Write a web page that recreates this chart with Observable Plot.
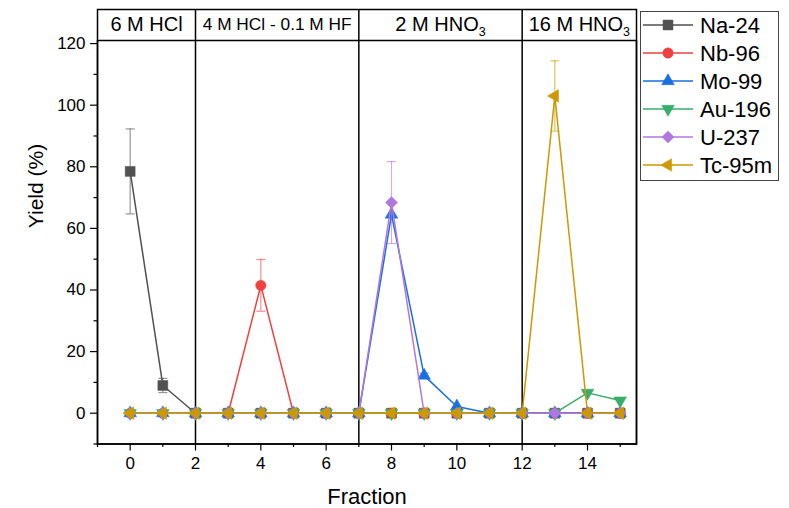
<!DOCTYPE html>
<html><head><meta charset="utf-8">
<script src="https://cdn.jsdelivr.net/npm/d3@7"></script>
<script src="https://cdn.jsdelivr.net/npm/@observablehq/plot@0.6"></script>
<style>
body{margin:0;background:#fff;font-family:"Liberation Sans",Arial,sans-serif;}
#wrap{position:relative;width:789px;height:508px;}
#legend{position:absolute;left:640px;top:11px;width:139px;height:170px;border:1px solid #444;box-sizing:border-box;background:#fff;}
</style></head><body><div id="wrap"><div id="legend"></div></div>
<script>
// ---- data ----
const fractions = [0,1,2,3,4,5,6,7,8,9,10,11,12,13,14,15];
const seriesNames = ["Na-24","Nb-96","Mo-99","Au-196","U-237","Tc-95m"];
const na24    = [78.5, 9.0, 0, 0, 0, 0, 0, 0, 0, 0, 0, 0, 0, 0, 0, 0];
const na24Err = [13.8, 2.3, 0, 0, 0, 0, 0, 0, 0, 0, 0, 0, 0, 0, 0, 0];
const nb96    = [0, 0, 0, 0, 41.5, 0, 0, 0, 0, 0, 0, 0, 0, 0, 0, 0];
const nb96Err = [0, 0, 0, 0, 8.4, 0, 0, 0, 0, 0, 0, 0, 0, 0, 0, 0];
const mo99    = [0, 0, 0, 0, 0, 0, 0, 0, 64.5, 12.2, 2.2, 0, 0, 0, 0, 0];
const mo99Err = [0, 0, 0, 0, 0, 0, 0, 0, 0, 0.8, 0, 0, 0, 0, 0, 0];
const au196   = [0, 0, 0, 0, 0, 0, 0, 0, 0, 0, 0, 0, 0, 0, 6.6, 4.1];
const au196Err= [0, 0, 0, 0, 0, 0, 0, 0, 0, 0, 0, 0, 0, 0, 0, 0];
const u237    = [0, 0, 0, 0, 0, 0, 0, 0, 68.4, 0, 0, 0, 0, 0, 0, 0];
const u237Err = [0, 0, 0, 0, 0, 0, 0, 0, 13.3, 0, 0, 0, 0, 0, 0, 0];
const tc95m   = [0, 0, 0, 0, 0, 0, 0, 0, 0, 0, 0, 0, 0, 103.0, 0, 0];
const tc95mErr= [0, 0, 0, 0, 0, 0, 0, 0, 0, 0, 0, 0, 0, 11.4, 0, 0];
const seriesValues = [na24, nb96, mo99, au196, u237, tc95m];
const seriesErrors = [na24Err, nb96Err, mo99Err, au196Err, u237Err, tc95mErr];

const dividers = [2, 7, 12];
const headerLabels = ["6 M HCl", "4 M HCl - 0.1 M HF", "2 M HNO₃", "16 M HNO₃"];
const xMajorTicks = [0, 2, 4, 6, 8, 10, 12, 14];
const xMinorTicks = [-1, 1, 3, 5, 7, 9, 11, 13, 15];
const yMajorTicks = [0, 20, 40, 60, 80, 100, 120];
const yMinorTicks = [-10, 10, 30, 50, 70, 90, 110];
const xDomain = [-1, 15.5];
const yDomain = [-10, 121];

// ---- styles ----
const colors = ["#515151", "#F14040", "#1A6FDF", "#37AD6B", "#B177DE", "#CC9900"];
const S3 = Math.sqrt(3);
const triDown = {draw(c, size){ const y = -Math.sqrt(size/(S3*3)); c.moveTo(0,-2*y); c.lineTo(-S3*y, y); c.lineTo(S3*y, y); c.closePath(); }};
const triLeft = {draw(c, size){ const y = -Math.sqrt(size/(S3*3)); c.moveTo(2*y,0); c.lineTo(-y, -S3*y); c.lineTo(-y, S3*y); c.closePath(); }};
const capSym = {draw(c){ c.moveTo(-4.5,0); c.lineTo(4.5,0); }};
const symbols = [d3.symbolSquare, d3.symbolCircle, d3.symbolTriangle, triDown, d3.symbolDiamond2, triLeft];
const radii = [5.6, 5.2, 4.7, 4.7, 5.4, 4.7];

// header segments derived from dividers and domain
const bounds = [xDomain[0], ...dividers, xDomain[1]];
const header = headerLabels.map((label, i) => ({label, mid: (bounds[i] + bounds[i+1]) / 2}));

const marks = [
  Plot.ruleX(dividers, {stroke: "#000", strokeWidth: 1.5, insetTop: -31}),
  Plot.frame({stroke: "#000", strokeWidth: 1.5, insetTop: -31}),
  Plot.frame({stroke: "#000", strokeWidth: 1.5}),
  Plot.text(header, {x: "mid", text: "label", frameAnchor: "top", dy: -16, lineAnchor: "middle",
    fontSize: (d) => d.label.length > 12 ? 17.3 : 20, fill: "#000"}),
  Plot.axisY({ticks: yMajorTicks, tickSize: 7, tickPadding: 5, label: null, fontSize: 17, stroke: "#000", strokeWidth: 1.2}),
  Plot.axisY({ticks: yMinorTicks, tickSize: 3.5, tickFormat: () => "", label: null, stroke: "#000", strokeWidth: 1.2}),
  Plot.axisX({ticks: xMajorTicks, tickSize: 7, tickPadding: 6, label: null, fontSize: 17, stroke: "#000", strokeWidth: 1.2}),
  Plot.axisX({ticks: xMinorTicks, tickSize: 3.5, tickFormat: () => "", label: null, stroke: "#000", strokeWidth: 1.2}),
  Plot.text(["Yield (%)"], {frameAnchor: "left", rotate: -90, dx: -61, dy: -14, fontSize: 21, fill: "#000"}),
  Plot.text(["Fraction"], {frameAnchor: "bottom", dy: 60, fontSize: 22, fill: "#000"})
];

seriesNames.forEach((name, s) => {
  const rows = fractions.map((x, i) => ({x, y: seriesValues[s][i], e: seriesErrors[s][i]}));
  const errRows = rows.filter(d => d.e > 0);
  const caps = errRows.flatMap(d => [{x: d.x, y: d.y - d.e}, {x: d.x, y: d.y + d.e}]);
  marks.push(
    Plot.ruleX(errRows, {x: "x", y1: d => d.y - d.e, y2: d => d.y + d.e, stroke: colors[s], strokeOpacity: 0.6, strokeWidth: 1.2}),
    Plot.dot(caps, {x: "x", y: "y", symbol: capSym, r: 3, stroke: colors[s], strokeOpacity: 0.6, strokeWidth: 1.2}),
    Plot.line(rows, {x: "x", y: "y", stroke: colors[s], strokeWidth: 1.5}),
    Plot.dot(rows, {x: "x", y: "y", symbol: symbols[s], r: radii[s], fill: colors[s], stroke: colors[s], strokeWidth: 0.5})
  );
});

const chart = Plot.plot({
  width: 789, height: 508,
  marginLeft: 97, marginRight: 153, marginTop: 40, marginBottom: 64.5,
  x: {domain: xDomain},
  y: {domain: yDomain},
  style: {fontFamily: '"Liberation Sans", Arial, sans-serif', fontSize: "16px", color: "#000", background: "#fff"},
  marks
});

// subscripts for HNO3
chart.querySelectorAll("text").forEach(t => {
  if (t.textContent.includes("₃")) {
    const base = t.textContent.replace("₃", "");
    t.textContent = base;
    const ts = document.createElementNS("http://www.w3.org/2000/svg", "tspan");
    ts.setAttribute("dy", "5");
    ts.setAttribute("font-size", "12.5");
    ts.textContent = "3";
    t.appendChild(ts);
  }
});

const wrap = document.getElementById("wrap");
wrap.insertBefore(chart, wrap.firstChild);

// legend
const lg = d3.select("#legend").append("svg").attr("width", 137).attr("height", 168);
seriesNames.forEach((name, s) => {
  const cy = 13 + 28 * s;
  lg.append("line").attr("x1", 2).attr("x2", 52).attr("y1", cy).attr("y2", cy)
    .attr("stroke", colors[s]).attr("stroke-width", 1.5);
  lg.append("path").attr("transform", `translate(27,${cy})`)
    .attr("d", d3.symbol(symbols[s], radii[s] * radii[s] * Math.PI)())
    .attr("fill", colors[s]).attr("stroke", colors[s]).attr("stroke-width", 0.5);
  lg.append("text").attr("x", 59).attr("y", cy + 8).attr("font-size", 22)
    .attr("font-family", '"Liberation Sans", Arial, sans-serif').attr("fill", "#000").text(name);
});
</script></body></html>
